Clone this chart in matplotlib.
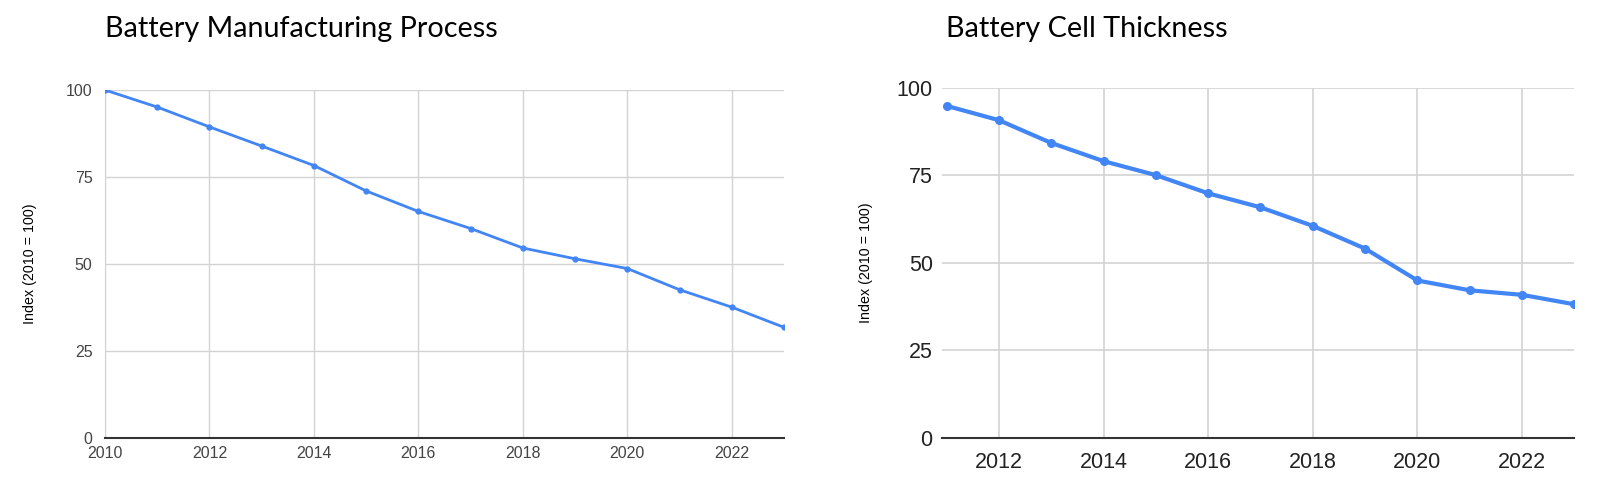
import matplotlib
matplotlib.use('Agg')
import matplotlib.pyplot as plt

years_left = [2010, 2011, 2012, 2013, 2014, 2015, 2016, 2017, 2018, 2019, 2020, 2021, 2022, 2023]
process_index = [100, 95.1, 89.4, 83.9, 78.3, 71.0, 65.1, 60.2, 54.6, 51.5, 48.7, 42.6, 37.6, 31.8]

years_right = [2011, 2012, 2013, 2014, 2015, 2016, 2017, 2018, 2019, 2020, 2021, 2022, 2023]
thickness_index = [94.9, 90.8, 84.3, 79.1, 75.1, 69.9, 65.9, 60.6, 54.1, 45.0, 42.2, 40.9, 38.2]

x_ticks = [2010, 2012, 2014, 2016, 2018, 2020, 2022]
y_ticks = [0, 25, 50, 75, 100]

blue = '#4285F4'
grid_col = '#D3D3D3'
tick_font = 'Liberation Sans'
title_font = ['Lato', 'DejaVu Sans']

fig = plt.figure(figsize=(16, 4.79), dpi=100)
fig.set_facecolor('white')

ax1 = fig.add_axes([0.0656, 0.0856, 0.4244, 0.7265])
ax2 = fig.add_axes([0.589, 0.0856, 0.395, 0.7307])

# left panel
ax1.plot(years_left, process_index, color=blue, linewidth=2, marker='o', markersize=3.5, zorder=3)
ax1.set_xlim(2010, 2023)
ax1.set_ylim(0, 100)
ax1.set_xticks(x_ticks)
ax1.set_yticks(y_ticks)
ax1.grid(True, color=grid_col, linewidth=1)
ax1.set_axisbelow(True)
for s in ['top', 'right']:
    ax1.spines[s].set_visible(False)
ax1.spines['left'].set_color(grid_col)
ax1.spines['bottom'].set_color('#333333')
ax1.spines['bottom'].set_linewidth(1.5)
ax1.tick_params(length=0)
ax1.tick_params(axis='y', pad=9)
ax1.tick_params(axis='x', pad=6)
for lab in ax1.get_xticklabels() + ax1.get_yticklabels():
    lab.set_family(tick_font)
    lab.set_fontsize(11.5)
    lab.set_color('#444444')
ax1.set_ylabel('Index (2010 = 100)', fontsize=10.3, family='Liberation Sans')
ax1.yaxis.set_label_coords(-0.1, 0.5)
fig.text(0.0656, 0.94, 'Battery Manufacturing Process', fontsize=20.7, family=title_font,
         ha='left', va='center')

# right panel
ax2.plot(years_right, thickness_index, color=blue, linewidth=3, marker='o', markersize=5.5, zorder=3)
ax2.set_xlim(2010.92, 2023)
ax2.set_ylim(0, 100)
ax2.set_xticks(x_ticks[1:])
ax2.set_yticks(y_ticks)
ax2.grid(True, color=grid_col, linewidth=1.2)
ax2.set_axisbelow(True)
for s in ['top', 'right', 'left']:
    ax2.spines[s].set_visible(False)
ax2.spines['bottom'].set_color('#333333')
ax2.spines['bottom'].set_linewidth(1.5)
ax2.tick_params(length=0)
ax2.tick_params(axis='y', pad=7)
ax2.tick_params(axis='x', pad=10)
for lab in ax2.get_xticklabels() + ax2.get_yticklabels():
    lab.set_family(tick_font)
    lab.set_fontsize(15.5)
    lab.set_color('#222222')
ax2.set_ylabel('Index (2010 = 100)', fontsize=10.3, family='Liberation Sans')
ax2.yaxis.set_label_coords(-0.11, 0.5)
fig.text(0.591, 0.94, 'Battery Cell Thickness', fontsize=20.7, family=title_font,
         ha='left', va='center')

fig.savefig('out.png', dpi=100, facecolor='white')
